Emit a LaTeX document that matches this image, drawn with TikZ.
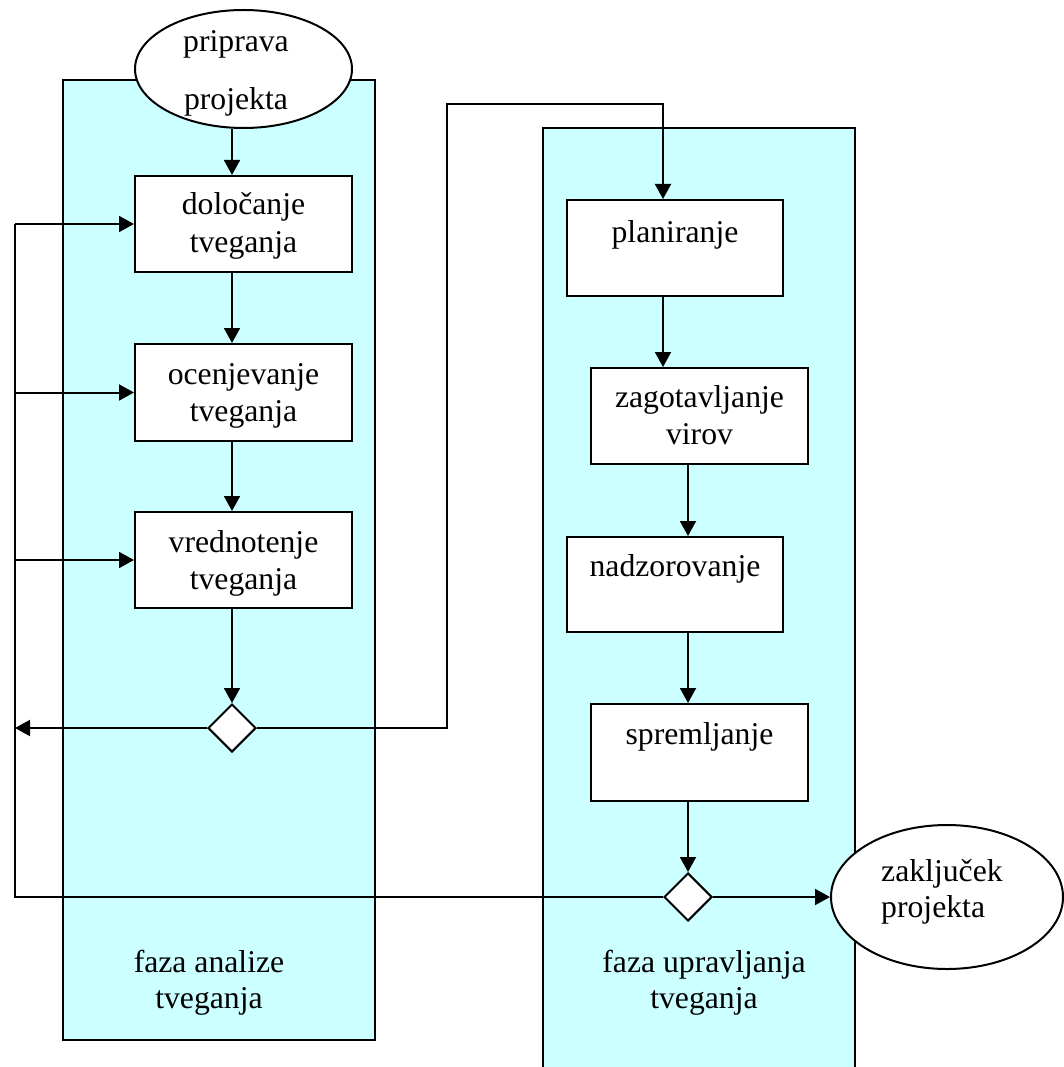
\documentclass[tikz,border=0pt]{standalone}
\usepackage{fontspec}
\setmainfont{Liberation Serif}
\usetikzlibrary{arrows.meta,shapes.geometric}
\definecolor{lanefill}{HTML}{CCFFFF}

\begin{document}
\begin{tikzpicture}[x=1pt,y=-1pt,
  every node/.style={font=\fontsize{31.7}{37}\selectfont},
  lane/.style={draw,fill=lanefill,line width=2pt},
  box/.style={draw,fill=white,line width=2pt,rectangle,inner sep=0pt},
  oval/.style={draw,fill=white,line width=2pt,ellipse,inner sep=0pt},
  choice/.style={draw,fill=white,line width=2pt,diamond,inner sep=0pt,
    minimum width=48pt,minimum height=48pt},
  txt/.style={anchor=base,align=center,inner sep=0pt},
  link/.style={line width=2pt},
  arr/.style={link,-{Triangle[length=15pt,width=16pt]}}
]
\useasboundingbox (0,0) rectangle (1064,1067);
\clip (0,0) rectangle (1064,1067);

% swimlanes
\draw[lane] (63,80) rectangle (375,1040);
\draw[lane] (543,128) rectangle (855,1100);

% analysis phase
\node[oval,minimum width=217pt,minimum height=118pt] (e1) at (243.5,69) {};
\node[box,minimum width=217pt,minimum height=96pt] (b1) at (243.5,224) {};
\node[box,minimum width=217pt,minimum height=97pt] (b2) at (243.5,392.5) {};
\node[box,minimum width=217pt,minimum height=96pt] (b3) at (243.5,560) {};
\node[choice] (d1) at (232,728) {};

% management phase
\node[box,minimum width=216pt,minimum height=96pt] (p1) at (675,248) {};
\node[box,minimum width=217pt,minimum height=96pt] (p2) at (699.5,416) {};
\node[box,minimum width=216pt,minimum height=95pt] (p3) at (675,584.5) {};
\node[box,minimum width=217pt,minimum height=97pt] (p4) at (699.5,752.5) {};
\node[choice] (d2) at (688,897) {};
\node[oval,minimum width=232pt,minimum height=144pt] (e2) at (947,897) {};

% labels (base anchor = baseline of the last line)
\node[txt,font=\fontsize{31.7}{58}\selectfont] (t0) at (236,110) {priprava\\projekta};
\node[txt] (t1) at (243.5,252) {določanje\\tveganja};
\node[txt] (t2) at (243.5,421) {ocenjevanje\\tveganja};
\node[txt] (t3) at (243.5,589) {vrednotenje\\tveganja};
\node[txt] (t4) at (675,243) {planiranje};
\node[txt] (t5) at (699.5,444) {zagotavljanje\\virov};
\node[txt] (t6) at (675,576) {nadzorovanje};
\node[txt] (t7) at (699.5,744) {spremljanje};
\node[txt,anchor=base west,align=left,font=\fontsize{31.7}{35.5}\selectfont] (t8) at (881,917) {zaključek\\projekta};
\node[txt,font=\fontsize{31.7}{36}\selectfont] (la) at (209,1008) {faza analize\\tveganja};
\node[txt,font=\fontsize{31.7}{36}\selectfont] (lb) at (704,1008) {faza upravljanja\\tveganja};

% helper columns
\coordinate (colA) at (232,0);
\coordinate (colB) at (663,0);
\coordinate (colC) at (688,0);
\coordinate (fbx) at (15,0);
\coordinate (jx) at (447,104);

% main flow, analysis
\draw[arr] (e1.south -| colA) -- (b1.north -| colA);
\draw[arr] (b1.south -| colA) -- (b2.north -| colA);
\draw[arr] (b2.south -| colA) -- (b3.north -| colA);
\draw[arr] (b3.south -| colA) -- (d1.north);

% feedback loop on the left
\draw[link] (d2.west) -- (d2.west -| fbx) -- (b1.west -| fbx);
\draw[arr] (b1.west -| fbx) -- (b1.west);
\draw[arr] (b2.west -| fbx) -- (b2.west);
\draw[arr] (b3.west -| fbx) -- (b3.west);
\draw[arr] (d1.west) -- (d1.west -| fbx);

% transfer to management phase
\draw[arr] (d1.east) -| (jx) -| (p1.north -| colB);

% main flow, management
\draw[arr] (p1.south -| colB) -- (p2.north -| colB);
\draw[arr] (p2.south -| colC) -- (p3.north -| colC);
\draw[arr] (p3.south -| colC) -- (p4.north -| colC);
\draw[arr] (p4.south -| colC) -- (d2.north);
\draw[arr] (d2.east) -- (e2.west);
\end{tikzpicture}
\end{document}
